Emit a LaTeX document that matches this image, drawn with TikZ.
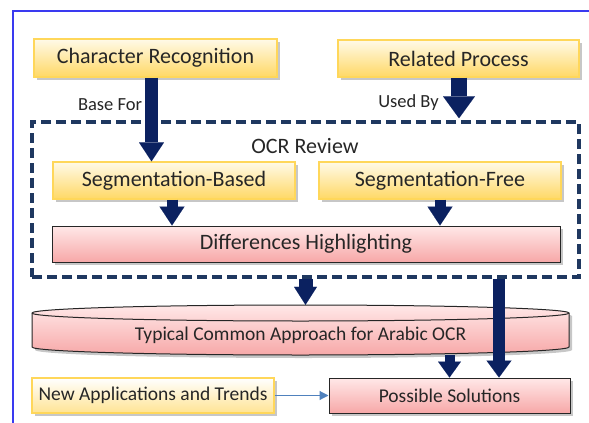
\documentclass[tikz,border=0pt]{standalone}
\usepackage{fontspec}
\setmainfont{Carlito}
\usetikzlibrary{arrows.meta,shadows,calc}
\definecolor{navy}{HTML}{0B2160}
\definecolor{dashcol}{HTML}{1F3860}
\definecolor{frameblue}{HTML}{3A3AF0}
\definecolor{ytop}{HTML}{FFFAE8}
\definecolor{ybot}{HTML}{FFD865}
\definecolor{yline}{HTML}{FFD75A}
\definecolor{ptop}{HTML}{FFE8E8}
\definecolor{pbot}{HTML}{F7A8A8}
\definecolor{thinblue}{HTML}{4F81BD}
\tikzset{
  shad/.style={drop shadow={shadow xshift=3pt, shadow yshift=-3pt, fill=black!40, opacity=0.55}},
  ybox/.style={shad, draw=yline, line width=1.3pt, top color=ytop, bottom color=ybot, inner sep=0pt, text=black!85},
  pbox/.style={shad, draw=black!85, line width=1pt, top color=ptop, bottom color=pbot, inner sep=0pt, text=black!85},
  bigfont/.style={font=\fontsize{22}{26}\selectfont},
  midfont/.style={font=\fontsize{19.5}{23}\selectfont},
  smallfont/.style={font=\fontsize{18.5}{22}\selectfont, text=black!85},
  bigarr/.style n args={3}{draw=navy, line width=#1pt, -{Triangle[length=#2pt, width=#3pt, line width=0.01pt]}}
}
\begin{document}
\begin{tikzpicture}[x=1pt,y=-1pt]
\useasboundingbox (0,0) rectangle (589,423);
% frame
\draw[frameblue, line width=1.5pt] (13,423) -- (13,11) -- (589,11);
% dashed review frame
\node[draw=dashcol, line width=3.5pt, dash pattern=on 10pt off 5pt, minimum width=547pt, minimum height=155pt, inner sep=0pt] (rev) at (305.5,199.5) {};
\node[bigfont, text=black!85] (revlabel) at (305,146) {OCR Review};
% top boxes
\node[ybox, bigfont, minimum width=243pt, minimum height=38pt] (cr) at (155.5,58) {Character Recognition};
\node[ybox, bigfont, minimum width=241pt, minimum height=37pt] (rp) at (458.5,58.5) {Related Process};
\node[ybox, bigfont, minimum width=242pt, minimum height=37pt] (sb) at (174,180.5) {Segmentation-Based};
\node[ybox, bigfont, minimum width=242pt, minimum height=37pt] (sf) at (440,180.5) {Segmentation-Free};
\node[pbox, bigfont, minimum width=508pt, minimum height=36pt] (dh) at (306,244) {Differences Highlighting};
% cylinder
\node[minimum width=537pt, minimum height=50pt, inner sep=0pt] (cyl) at (300.5,330) {};
\fill[black!40, opacity=0.55] (35,316) -- (35,350) arc[start angle=180,end angle=360,x radius=268.5pt,y radius=8pt] -- (572,316) arc[start angle=0,end angle=180,x radius=268.5pt,y radius=8pt] -- cycle;
\path[draw=black!85, line width=1pt, top color=ptop, bottom color=pbot] (32,313) -- (32,347) arc[start angle=180,end angle=360,x radius=268.5pt,y radius=8pt] -- (569,313) arc[start angle=0,end angle=180,x radius=268.5pt,y radius=8pt] -- cycle;
\draw[black!85, line width=1pt] (32,313) arc[start angle=180,end angle=360,x radius=268.5pt,y radius=8pt];
\node[midfont, text=black!85] (cyltext) at (300.5,335) {Typical Common Approach for Arabic OCR};
% bottom boxes
\node[pbox, midfont, minimum width=241pt, minimum height=35pt] (ps) at (449.5,395.5) {Possible Solutions};
\node[ybox, midfont, top color=white, bottom color=ybot!70, minimum width=242pt, minimum height=35pt] (na) at (153,395.5) {New Applications and Trends};
% labels
\node[smallfont] (basefor) at (110,105) {Base For};
\node[smallfont] (usedby) at (408.5,103) {Used By};
% arrows
\draw[bigarr={13}{19}{25}] ([xshift=-4pt]cr.south) -- ([xshift=-4pt]cr.south |- sb.north);
\draw[bigarr={16}{22}{32}] ([xshift=0.5pt]rp.south) -- ([xshift=0.5pt,yshift=2pt]rp.south |- rev.north);
\draw[bigarr={11}{19}{25}] ([xshift=-2pt]sb.south) -- ([xshift=-2pt]sb.south |- dh.north);
\draw[bigarr={11}{19}{25}] (sf.south) -- (sf.south |- dh.north);
\draw[bigarr={14}{18}{23}] (rev.south) -- (rev.south |- cyl.north);
\draw[bigarr={12}{17}{25}] ([xshift=193.5pt]rev.south) -- ([xshift=193.5pt]rev.south |- ps.north);
\draw[bigarr={10}{16}{23}] (cyl.south -| ps.north) -- (ps.north);
\draw[thinblue, line width=1.2pt, -{Triangle[length=9pt, width=9pt]}] (na.east) -- (ps.west);
\end{tikzpicture}
\end{document}
